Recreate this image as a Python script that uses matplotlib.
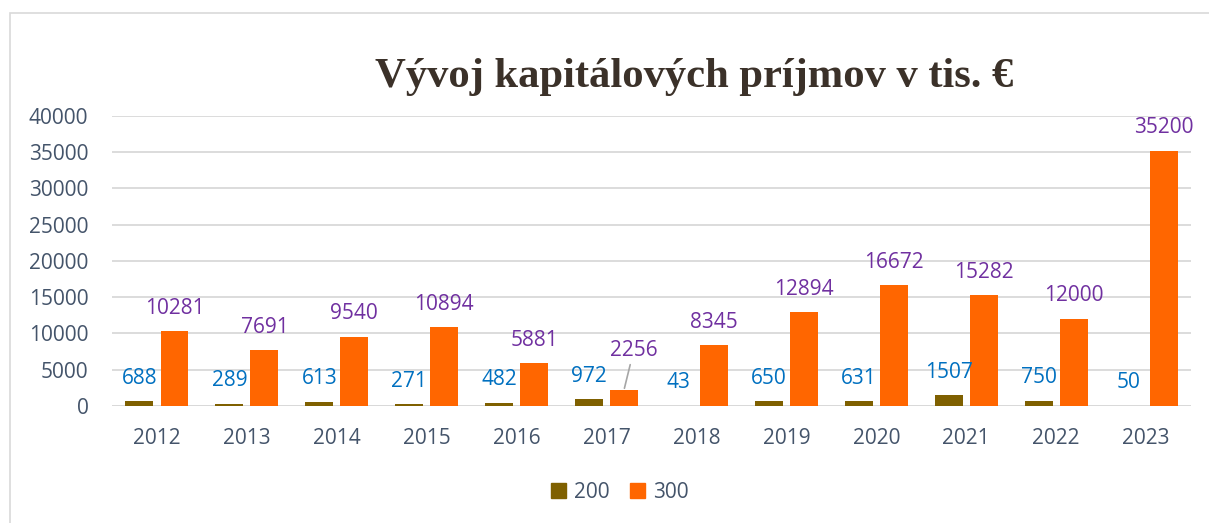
import numpy as np
import matplotlib.pyplot as plt
from matplotlib.patches import Rectangle, Patch

# data
roky = ["2012", "2013", "2014", "2015", "2016", "2017",
        "2018", "2019", "2020", "2021", "2022", "2023"]
s200 = [688, 289, 613, 271, 482, 972, 43, 650, 631, 1507, 750, 50]
s300 = [10281, 7691, 9540, 10894, 5881, 2256, 8345, 12894, 16672, 15282, 12000, 35200]
y_ticks = [0, 5000, 10000, 15000, 20000, 25000, 30000, 35000, 40000]

c200 = "#7f6000"
c300 = "#ff6600"
txt = "#44546a"
font = ["Open Sans", "DejaVu Sans"]
fs = 15

fig = plt.figure(figsize=(12.09, 5.23), dpi=100)
ax = fig.add_axes([112/1209, 117/523, 1079/1209, 290.3/523])

x = np.arange(len(roky))
w = 0.31
d = 0.195
ax.bar(x - d, s200, w, color=c200, zorder=3)
ax.bar(x + d, s300, w, color=c300, zorder=3)

ax.set_xlim(-0.5, len(roky) - 0.5)
ax.set_ylim(0, 40000)
ax.set_yticks(y_ticks)
ax.set_yticklabels([str(t) for t in y_ticks], family=font, fontsize=fs, color=txt)
ax.set_xticks(x)
ax.set_xticklabels(roky, family=font, fontsize=fs, color=txt)
ax.tick_params(length=0)
ax.tick_params(axis="x", pad=16)
ax.tick_params(axis="y", pad=17)
ax.grid(axis="y", color="#d9d9d9", lw=1.3, zorder=0)
for s in ["top", "right", "left", "bottom"]:
    ax.spines[s].set_visible(False)
ax.axhline(0, color="#d9d9d9", lw=1.3, zorder=2)

# popisky hodnot
for i in range(len(roky)):
    ax.annotate(str(s200[i]), (x[i] - d, s200[i]), xytext=(0, 16.5),
                textcoords="offset points", ha="center", va="center",
                color="#0070c0", fontsize=fs, family=font)
    if roky[i] == "2017":
        ax.annotate(str(s300[i]), (x[i] + d, s300[i]), xytext=(7, 28.5),
                    textcoords="offset points", ha="center", va="center",
                    color="#7030a0", fontsize=fs, family=font,
                    arrowprops=dict(arrowstyle="-", color="#a6a6a6", lw=1.2,
                                    shrinkA=1, shrinkB=1))
    else:
        ax.annotate(str(s300[i]), (x[i] + d, s300[i]), xytext=(0, 16.5),
                    textcoords="offset points", ha="center", va="center",
                    color="#7030a0", fontsize=fs, family=font)

fig.text(694/1209, 1 - 77/523, "Vývoj kapitálových príjmov v tis. €",
         ha="center", va="center", fontsize=30.7, fontweight="bold",
         family=["Liberation Serif", "DejaVu Serif"], color="#3b3129")

handles = [Patch(color=c200), Patch(color=c300)]
leg = fig.legend(handles, ["200", "300"], loc="center", bbox_to_anchor=(620/1209, 1 - 492/523),
                 ncol=2, frameon=False, handlelength=0.7, handleheight=0.7,
                 handletextpad=0.4, columnspacing=1.0, prop={"family": font, "size": fs})
for t in leg.get_texts():
    t.set_color(txt)

# ramik grafu
fig.add_artist(Rectangle((10/1209, -0.1), 1.2, (523 - 13)/523 + 0.1, transform=fig.transFigure,
                         fill=False, edgecolor="#d9d9d9", lw=1.2))

fig.savefig("out.png", dpi=100)
